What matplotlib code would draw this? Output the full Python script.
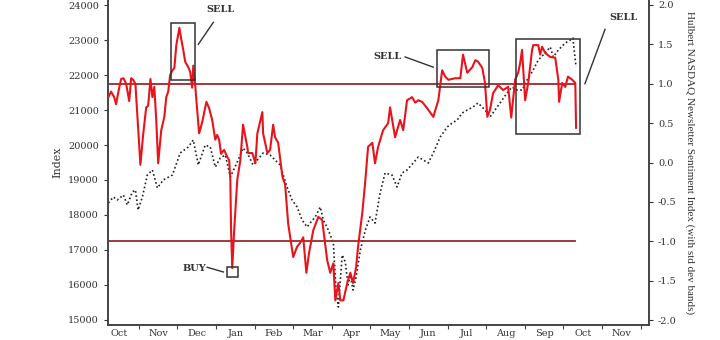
import matplotlib
matplotlib.use("Agg")
import matplotlib.pyplot as plt
from matplotlib.patches import Rectangle

# x positions are in months counted from the start of October
month_labels = ['Oct', 'Nov', 'Dec', 'Jan', 'Feb', 'Mar', 'Apr',
                'May', 'Jun', 'Jul', 'Aug', 'Sep', 'Oct', 'Nov']

# NASDAQ index (left axis, dotted)
index_x = [0.21, 0.34, 0.44, 0.60, 0.70, 0.83, 0.91, 0.98, 1.09, 1.22, 1.35, 1.48,
           1.63, 1.87, 2.07, 2.28, 2.41, 2.54, 2.72, 2.85, 2.98, 3.11, 3.24, 3.37,
           3.55, 3.70, 3.81, 3.96, 4.22, 4.40, 4.66, 4.84, 4.97, 5.10, 5.23, 5.36,
           5.44, 5.57, 5.70, 5.78, 5.91, 6.04, 6.11, 6.17, 6.22, 6.27, 6.35, 6.42,
           6.48, 6.55, 6.63, 6.74, 6.87, 6.99, 7.12, 7.25, 7.38, 7.56, 7.69, 7.82,
           7.95, 8.11, 8.24, 8.37, 8.50, 8.63, 8.81, 8.99, 9.12, 9.25, 9.38, 9.51,
           9.66, 9.79, 9.97, 10.10, 10.23, 10.36, 10.54, 10.67, 10.80, 10.93, 11.06,
           11.22, 11.35, 11.53, 11.66, 11.74, 11.87, 12.05, 12.18, 12.25, 12.28, 12.33]
index_y = [18343, 18514, 18429, 18571, 18286, 18657, 18714, 18143, 18514, 19143, 19286, 18771,
           19000, 19143, 19771, 19943, 20143, 19429, 20000, 19943, 19371, 19629, 19714, 19086,
           19514, 19914, 19771, 19429, 19771, 19714, 19429, 18800, 18429, 18229, 17857, 17657,
           17771, 17943, 18229, 17857, 17571, 17200, 15857, 15371, 16143, 16857, 16657, 16000,
           16286, 15857, 16229, 17000, 17571, 17943, 17771, 18629, 19200, 19143, 18800, 19200,
           19286, 19486, 19657, 19571, 19486, 19771, 20229, 20514, 20629, 20714, 20914, 21000,
           21086, 21200, 21000, 20800, 21000, 21200, 21486, 21657, 21571, 21571, 21857,
           22143, 22429, 22629, 22800, 22514, 22714, 22914, 23000, 23057, 22714, 22229]

# Hulbert NASDAQ Newsletter Sentiment Index (right axis, red)
sent_x = [0.21, 0.28, 0.36, 0.41, 0.47, 0.54, 0.60, 0.67, 0.75, 0.80, 0.85, 0.91,
          0.96, 1.04, 1.11, 1.19, 1.24, 1.30, 1.35, 1.40, 1.45, 1.50, 1.58, 1.66,
          1.71, 1.76, 1.81, 1.87, 1.92, 1.97, 2.05, 2.10, 2.15, 2.20, 2.28, 2.33,
          2.38, 2.41, 2.46, 2.51, 2.56, 2.64, 2.75, 2.82, 2.90, 2.98, 3.03, 3.08,
          3.13, 3.21, 3.29, 3.34, 3.37, 3.39, 3.42, 3.47, 3.55, 3.63, 3.70, 3.81,
          3.83, 3.94, 4.02, 4.07, 4.15, 4.20, 4.22, 4.33, 4.40, 4.48, 4.53, 4.61,
          4.72, 4.79, 4.87, 5.00, 5.10, 5.18, 5.26, 5.34, 5.41, 5.52, 5.65, 5.75,
          5.88, 5.96, 6.04, 6.09, 6.17, 6.22, 6.30, 6.40, 6.48, 6.55, 6.63, 6.68,
          6.79, 6.87, 6.94, 7.05, 7.12, 7.20, 7.33, 7.46, 7.51, 7.64, 7.77, 7.85,
          7.95, 8.08, 8.16, 8.24, 8.34, 8.47, 8.63, 8.76, 8.86, 8.94, 9.02, 9.20,
          9.33, 9.40, 9.51, 9.64, 9.72, 9.79, 9.90, 9.97, 10.03, 10.10, 10.18, 10.31,
          10.44, 10.57, 10.65, 10.75, 10.83, 10.88, 10.93, 11.01, 11.09, 11.19, 11.22,
          11.35, 11.40, 11.45, 11.53, 11.66, 11.79, 11.87, 11.89, 11.97, 12.05, 12.12,
          12.23, 12.31, 12.33]
sent_y = [0.83, 0.90, 0.83, 0.74, 0.90, 1.06, 1.07, 1.00, 0.78, 1.07, 1.05, 1.00,
          0.60, -0.03, 0.35, 0.70, 0.72, 1.06, 0.83, 0.96, 0.54, -0.01, 0.41, 0.58,
          0.83, 0.90, 1.11, 1.17, 1.20, 1.49, 1.71, 1.56, 1.43, 1.28, 1.21, 1.15,
          0.95, 1.23, 0.98, 0.67, 0.37, 0.51, 0.77, 0.69, 0.54, 0.29, 0.35, 0.29,
          0.11, 0.16, 0.07, 0.03, -0.22, -0.86, -1.34, -0.86, -0.22, 0.03, 0.48, 0.20,
          0.12, 0.12, -0.01, 0.37, 0.54, 0.64, 0.37, 0.12, 0.16, 0.48, 0.32, 0.25,
          -0.18, -0.28, -0.78, -1.20, -1.07, -1.02, -0.95, -1.40, -1.15, -0.86, -0.69, -0.73,
          -1.24, -1.40, -1.28, -1.75, -1.53, -1.75, -1.75, -1.53, -1.40, -1.53, -1.33, -1.07,
          -0.64, -0.22, 0.20, 0.25, -0.01, 0.20, 0.41, 0.50, 0.70, 0.32, 0.54, 0.41,
          0.79, 0.83, 0.76, 0.79, 0.77, 0.69, 0.58, 0.79, 1.17, 1.09, 1.05, 1.07,
          1.07, 1.37, 1.14, 1.21, 1.30, 1.28, 1.20, 1.01, 0.58, 0.67, 0.88, 0.98,
          0.92, 0.96, 0.57, 1.05, 1.14, 1.26, 1.43, 0.79, 1.01, 1.43, 1.49,
          1.49, 1.37, 1.47, 1.39, 1.34, 1.33, 1.05, 0.77, 1.01, 0.96, 1.09,
          1.05, 1.01, 0.44]

band_levels = [1.0, -1.0]
band_end = 12.31

plt.rcParams['font.family'] = ['DejaVu Serif']

fig = plt.figure(figsize=(7.2, 3.4), dpi=100)
ax = fig.add_axes([108 / 720, 15 / 340, 541 / 720, 325 / 340])
ax2 = ax.twinx()

ax.plot(index_x, index_y, color='#222222', linestyle=(0, (1, 1.5)), linewidth=1.2, zorder=2)
ax.set_ylim(14857, 24143)
ax.set_yticks(range(15000, 24001, 1000))
ax.set_xlim(0.2, 14.22)
ax.set_ylabel('Index', fontsize=8, color='#333333', labelpad=4)

for lvl in band_levels:
    ax2.plot([0.2, band_end], [lvl, lvl], color='#9b2a2a', linewidth=1.3, zorder=1)
ax2.plot(sent_x, sent_y, color='#e8141c', linewidth=1.5, zorder=3)
ax2.set_ylim(-2.063, 2.063)
ax2.set_yticks([-2.0, -1.5, -1.0, -0.5, 0.0, 0.5, 1.0, 1.5, 2.0])
ax2.set_yticklabels([f'{t:.1f}' for t in ax2.get_yticks()])
ax2.set_ylabel('Hulbert NASDAQ Newsletter Sentiment Index (with std dev bands)',
               fontsize=8, family='Liberation Serif', color='#333333',
               rotation=270, labelpad=13)

# month ticks at month starts, labels in between
ax.set_xticks(range(1, 15))
ax.set_xticklabels([])
ax.set_xticks([i + 0.5 for i in range(14)], minor=True)
ax.set_xticklabels(month_labels, minor=True)
ax.tick_params(axis='x', which='minor', length=0, labelsize=7, colors='#333333', pad=3)
ax.tick_params(axis='x', which='major', length=3, direction='out', color='#444444')

for a in (ax, ax2):
    a.tick_params(axis='y', labelsize=7, colors='#333333', length=3, direction='out')
    a.spines['top'].set_visible(False)
    for s in ('left', 'right', 'bottom'):
        a.spines[s].set_color('#444444')
        a.spines[s].set_linewidth(1.2)

# signal boxes
boxes = [(1.84, 1.05, 0.62, 0.72), (8.73, 0.96, 1.35, 0.47),
         (10.78, 0.36, 1.66, 1.21), (3.29, -1.45, 0.29, 0.12)]
for bx, by, bw, bh in boxes:
    ax2.add_patch(Rectangle((bx, by), bw, bh, fill=False, edgecolor='#333333',
                            linewidth=1.1, zorder=4))

lbl = dict(fontsize=7, fontweight='bold', color='#333333', ha='center', va='center')
ax2.text(3.12, 1.94, 'SELL', **lbl)
ax2.plot([2.54, 2.93], [1.50, 1.78], color='#333333', linewidth=1)
ax2.text(7.44, 1.34, 'SELL', **lbl)
ax2.plot([7.90, 8.63], [1.34, 1.21], color='#333333', linewidth=1)
ax2.text(13.55, 1.84, 'SELL', **lbl)
ax2.plot([12.56, 13.08], [1.00, 1.69], color='#333333', linewidth=1)
ax2.text(2.44, -1.35, 'BUY', **lbl)
ax2.plot([2.77, 3.19], [-1.33, -1.39], color='#333333', linewidth=1)

fig.savefig('out.png', dpi=100)
